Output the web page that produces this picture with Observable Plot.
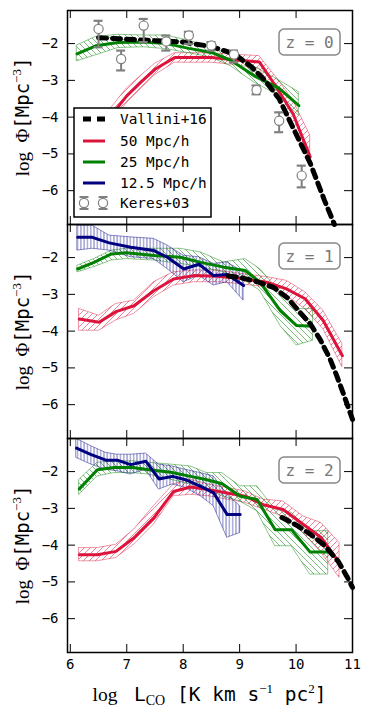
<!DOCTYPE html>
<html><head><meta charset="utf-8">
<script src="https://cdn.jsdelivr.net/npm/d3@7"></script>
<script src="https://cdn.jsdelivr.net/npm/@observablehq/plot@0.6"></script>
<style>body{margin:0;background:#fff;} svg{display:block}</style>
</head><body><div id="chart"></div>
<script>
// ---------- data ----------
const xTicks = [6, 7, 8, 9, 10, 11];
const yTicks = [-2, -3, -4, -5, -6];
const panelLabels = ["z = 0", "z = 1", "z = 2"];
const legendLabels = ["Vallini+16", "50 Mpc/h", "25 Mpc/h", "12.5 Mpc/h", "Keres+03"];

// Vallini+16
const vallini_z0_x = [6.5, 7.0, 7.5, 8.0, 8.5, 8.9, 9.2, 9.45, 9.7, 9.95, 10.25, 10.5, 10.68];
const vallini_z0_y = [-1.84, -1.88, -1.92, -1.96, -2.08, -2.28, -2.62, -3.0, -3.5, -4.3, -5.25, -6.25, -6.92];
const vallini_z1_x = [8.8, 9.0, 9.3, 9.6, 9.85, 10.07, 10.25, 10.42, 10.6, 10.72, 10.85, 11.0];
const vallini_z1_y = [-2.5, -2.54, -2.65, -2.81, -3.1, -3.49, -3.8, -4.21, -4.75, -5.21, -5.75, -6.4];
const vallini_z2_x = [9.75, 10.0, 10.25, 10.5, 10.75, 10.9, 11.0];
const vallini_z2_y = [-3.25, -3.45, -3.7, -4.0, -4.45, -4.85, -5.15];

// Keres+03 (z = 0)
const keres_x  = [6.5, 6.9, 7.3, 7.7, 8.1, 8.5, 8.9, 9.3, 9.7, 10.1];
const keres_y  = [-1.60, -2.42, -1.51, -1.94, -1.78, -2.05, -2.30, -3.26, -4.10, -5.59];
const keres_lo = [-2.10, -2.73, -1.96, -2.19, -2.01, -2.19, -2.51, -3.38, -4.41, -5.91];
const keres_hi = [-1.38, -2.19, -1.33, -1.78, -1.68, -1.96, -2.19, -3.14, -3.87, -5.32];

// 50 Mpc/h (red)
const red_z0_x  = [6.3, 6.65, 7.0, 7.25, 7.5, 7.85, 8.2, 8.5, 8.9, 9.35, 9.65, 9.95, 10.25];
const red_z0_y  = [-4.8, -4.1, -3.42, -3.05, -2.7, -2.38, -2.38, -2.38, -2.44, -2.5, -3.18, -3.92, -5.08];
const red_z0_lo = [-5.0, -4.3, -3.62, -3.24, -2.86, -2.52, -2.52, -2.52, -2.58, -2.68, -3.42, -4.2, -5.2];
const red_z0_hi = [-4.6, -3.9, -3.22, -2.88, -2.55, -2.26, -2.26, -2.27, -2.3, -2.34, -2.92, -3.55, -4.5];
const red_z1_x  = [6.16, 6.51, 6.81, 7.13, 7.48, 7.83, 8.19, 8.60, 9.0, 9.48, 9.83, 10.16, 10.48, 10.82];
const red_z1_y  = [-3.67, -3.76, -3.47, -3.31, -2.90, -2.58, -2.49, -2.51, -2.56, -2.67, -2.85, -3.12, -3.71, -4.67];
const red_z1_lo = [-3.99, -3.99, -3.71, -3.53, -3.08, -2.76, -2.67, -2.67, -2.72, -2.81, -3.03, -3.40, -3.94, -4.98];
const red_z1_hi = [-3.40, -3.58, -3.26, -3.17, -2.67, -2.40, -2.35, -2.35, -2.44, -2.53, -2.63, -2.94, -3.44, -4.35];
const red_z2_x  = [6.16, 6.48, 6.81, 7.13, 7.48, 7.83, 8.13, 8.45, 8.78, 9.10, 9.42, 9.77, 10.13, 10.45, 10.77];
const red_z2_y  = [-4.26, -4.26, -4.17, -3.80, -3.26, -2.54, -2.42, -2.49, -2.58, -2.67, -2.90, -3.03, -3.44, -3.80, -4.48];
const red_z2_lo = [-4.44, -4.44, -4.35, -3.99, -3.44, -2.67, -2.63, -2.67, -2.76, -2.85, -3.03, -3.22, -3.67, -4.21, -4.89];
const red_z2_hi = [-4.08, -4.08, -3.99, -3.58, -2.94, -2.35, -2.22, -2.35, -2.44, -2.54, -2.76, -2.81, -3.22, -3.40, -3.94];

// 25 Mpc/h (green)
const green_z0_x  = [6.12, 6.45, 6.85, 7.3, 7.7, 8.1, 8.5, 8.85, 9.25, 9.7, 10.05];
const green_z0_y  = [-2.28, -2.06, -1.97, -1.96, -2.0, -2.13, -2.24, -2.46, -2.87, -3.22, -3.69];
const green_z0_lo = [-2.48, -2.32, -2.12, -2.1, -2.15, -2.26, -2.38, -2.62, -3.05, -3.42, -3.96];
const green_z0_hi = [-2.05, -1.82, -1.76, -1.78, -1.78, -1.92, -2.1, -2.33, -2.62, -3.0, -3.32];
const green_z1_x  = [6.13, 6.42, 6.73, 6.99, 7.48, 7.95, 8.31, 8.72, 9.10, 9.36, 9.72, 10.01, 10.30];
const green_z1_y  = [-2.31, -2.13, -1.90, -1.87, -1.94, -1.99, -2.13, -2.26, -2.35, -2.67, -3.44, -3.85, -3.87];
const green_z1_lo = [-2.40, -2.26, -2.08, -2.04, -2.08, -2.17, -2.26, -2.40, -2.63, -2.90, -3.85, -4.39, -4.26];
const green_z1_hi = [-2.22, -2.04, -1.81, -1.76, -1.76, -1.76, -1.86, -2.13, -2.04, -2.31, -2.94, -3.40, -3.40];
const green_z2_x  = [6.16, 6.48, 6.78, 7.10, 7.39, 7.78, 8.13, 8.42, 8.69, 9.01, 9.31, 9.63, 9.92, 10.25, 10.57];
const green_z2_y  = [-2.47, -1.95, -1.89, -1.89, -1.95, -2.02, -2.13, -2.22, -2.33, -2.67, -2.76, -3.58, -3.58, -4.19, -4.19];
const green_z2_lo = [-2.63, -2.13, -2.04, -2.04, -2.08, -2.22, -2.35, -2.44, -2.67, -2.81, -3.08, -4.03, -4.03, -4.80, -4.80];
const green_z2_hi = [-2.22, -1.76, -1.72, -1.72, -1.76, -1.81, -1.86, -2.04, -2.04, -2.40, -2.40, -3.03, -3.12, -3.62, -3.62];

// 12.5 Mpc/h (blue)
const blue_z1_x  = [6.13, 6.39, 6.69, 7.07, 7.48, 7.72, 8.01, 8.28, 8.54, 8.78, 9.07];
const blue_z1_y  = [-1.45, -1.45, -1.60, -1.72, -1.81, -1.99, -2.31, -2.18, -2.49, -2.46, -2.76];
const blue_z1_lo = [-1.81, -1.76, -1.81, -1.99, -2.04, -2.31, -2.67, -2.49, -2.76, -2.67, -3.17];
const blue_z1_hi = [-1.13, -1.13, -1.40, -1.45, -1.49, -1.67, -1.95, -1.99, -2.17, -2.13, -2.40];
const blue_z2_x  = [6.11, 6.37, 6.63, 6.83, 7.07, 7.34, 7.57, 7.81, 8.04, 8.31, 8.54, 8.78, 9.01];
const blue_z2_y  = [-1.36, -1.54, -1.69, -1.69, -1.81, -1.72, -2.20, -2.13, -2.22, -2.40, -2.58, -3.17, -3.17];
const blue_z2_lo = [-1.63, -1.81, -1.95, -1.99, -2.08, -1.95, -2.49, -2.35, -2.44, -2.67, -2.94, -3.80, -3.67];
const blue_z2_hi = [-1.11, -1.31, -1.49, -1.54, -1.54, -1.51, -1.81, -1.86, -1.95, -2.04, -2.13, -2.63, -2.94];

// ---------- build tables ----------
const RED = "#DC143C", GREEN = "#008000", BLUE = "#000080", GRAY = "#808080";
const W = 373, H = 716, MT = 10, MB = 64, ML = 67, MR = 21;
const FH = (H - MT - MB) / 3;
const MONO = "DejaVu Sans Mono", SERIF = "Liberation Serif";

function rows(z, xs, ys, lo, hi) {
  return xs.map((x, i) => ({z, x, y: ys[i], lo: lo ? lo[i] : null, hi: hi ? hi[i] : null}));
}
const redRows = [...rows(0, red_z0_x, red_z0_y, red_z0_lo, red_z0_hi), ...rows(1, red_z1_x, red_z1_y, red_z1_lo, red_z1_hi), ...rows(2, red_z2_x, red_z2_y, red_z2_lo, red_z2_hi)];
const greenRows = [...rows(0, green_z0_x, green_z0_y, green_z0_lo, green_z0_hi), ...rows(1, green_z1_x, green_z1_y, green_z1_lo, green_z1_hi), ...rows(2, green_z2_x, green_z2_y, green_z2_lo, green_z2_hi)];
const blueRows = [...rows(1, blue_z1_x, blue_z1_y, blue_z1_lo, blue_z1_hi), ...rows(2, blue_z2_x, blue_z2_y, blue_z2_lo, blue_z2_hi)];
const valliniRows = [...rows(0, vallini_z0_x, vallini_z0_y), ...rows(1, vallini_z1_x, vallini_z1_y), ...rows(2, vallini_z2_x, vallini_z2_y)];
const keresRows = rows(0, keres_x, keres_y, keres_lo, keres_hi);

const band = (data, color, pat) => Plot.areaY(data, {x: "x", y1: "lo", y2: "hi", fy: "z", fill: `url(#${pat})`, stroke: color, strokeWidth: 0.6, strokeOpacity: 0.75});
const line = (data, color) => Plot.line(data, {x: "x", y: "y", fy: "z", stroke: color, strokeWidth: 3});

const svg = Plot.plot({
  width: W, height: H,
  marginTop: MT, marginBottom: MB, marginLeft: ML, marginRight: MR,
  x: {domain: [5.95, 11]},
  y: {domain: [-6.92, -1.1]},
  fy: {domain: [0, 1, 2], padding: 0, axis: null},
  style: {fontFamily: MONO, fontSize: "14px", background: "white", overflow: "visible"},
  marks: [
    band(redRows, RED, "hRed"),
    band(greenRows, GREEN, "hGreen"),
    band(blueRows, BLUE, "hBlue"),
    line(redRows, RED),
    line(greenRows, GREEN),
    line(blueRows, BLUE),
    Plot.line(valliniRows, {x: "x", y: "y", fy: "z", stroke: "black", strokeWidth: 5, strokeDasharray: "8,6"}),
    Plot.ruleX(keresRows, {x: "x", y1: "lo", y2: "hi", fy: "z", stroke: GRAY, strokeWidth: 2}),
    Plot.ruleY(keresRows, {y: "lo", x1: d => d.x - 0.08, x2: d => d.x + 0.08, fy: "z", stroke: GRAY, strokeWidth: 2.2}),
    Plot.ruleY(keresRows, {y: "hi", x1: d => d.x - 0.08, x2: d => d.x + 0.08, fy: "z", stroke: GRAY, strokeWidth: 2.2}),
    Plot.dot(keresRows, {x: "x", y: "y", fy: "z", r: 4.6, fill: "white", stroke: GRAY, strokeWidth: 1.2}),
    // inward ticks on all four sides
    Plot.tickX(xTicks, {x: d => d, insetTop: FH - 8, stroke: "black", strokeWidth: 1}),
    Plot.tickX(xTicks, {x: d => d, insetBottom: FH - 8, stroke: "black", strokeWidth: 1}),
    Plot.tickY(yTicks, {y: d => d, insetRight: (W - ML - MR) - 8, stroke: "black", strokeWidth: 1}),
    Plot.tickY(yTicks, {y: d => d, insetLeft: (W - ML - MR) - 8, stroke: "black", strokeWidth: 1}),
    Plot.frame({stroke: "black", strokeWidth: 1.5}),
    Plot.axisX(xTicks, {anchor: "bottom", tickSize: 0, tickPadding: 7, label: null, fontSize: 14, tickFormat: d => String(d)}),
    Plot.axisY(yTicks, {anchor: "left", tickSize: 0, tickPadding: 9, label: null, fontSize: 14, tickFormat: d => "\u2212" + Math.abs(d)})
  ]
});
document.getElementById("chart").appendChild(svg);

// ---------- hatch patterns ----------
const root = d3.select(svg);
const defs = root.insert("defs", ":first-child");
function hatch(id, color, size, d, sw) {
  const p = defs.append("pattern").attr("id", id).attr("patternUnits", "userSpaceOnUse").attr("width", size).attr("height", size);
  p.append("path").attr("d", d).attr("stroke", color).attr("stroke-width", sw).attr("fill", "none").attr("stroke-opacity", 0.75);
}
hatch("hRed", RED, 6, "M-1,1L1,-1M0,6L6,0M5,7L7,5", 0.7);
hatch("hGreen", GREEN, 6, "M-1,5L1,7M0,0L6,6M5,-1L7,1", 0.7);
hatch("hBlue", BLUE, 3.3, "M1.65,0V3.3", 0.7);

// ---------- panel labels (z = ...) ----------
panelLabels.forEach((lab, i) => {
  const top = MT + i * FH;
  root.append("rect").attr("x", 279).attr("y", top + 19).attr("width", 61).attr("height", 26)
    .attr("rx", 5).attr("fill", "white").attr("stroke", "#888").attr("stroke-width", 1.5);
  root.append("text").attr("x", 309.5).attr("y", top + 32).attr("text-anchor", "middle")
    .attr("dominant-baseline", "central").attr("font-family", MONO).attr("font-size", 16)
    .attr("fill", "#777").style("white-space", "pre").text(lab);
});

// ---------- y labels ----------
for (let i = 0; i < 3; i++) {
  const cy = MT + i * FH + FH / 2;
  const t = root.append("text").attr("transform", `translate(29,${cy}) rotate(-90)`)
    .attr("text-anchor", "middle").attr("font-size", 19).style("white-space", "pre");
  t.append("tspan").attr("font-family", SERIF).text("log ");
  t.append("tspan").attr("font-family", SERIF).text(" \u03A6");
  t.append("tspan").attr("font-family", MONO).text("[Mpc");
  t.append("tspan").attr("font-family", SERIF).attr("font-size", 13).attr("dy", -8).text("\u22123");
  t.append("tspan").attr("font-family", MONO).attr("dy", 8).text("]");
}

// ---------- x label ----------
{
  const t = root.append("text").attr("x", (ML + W - MR) / 2).attr("y", 701).attr("text-anchor", "middle")
    .attr("font-size", 19.5).style("white-space", "pre");
  t.append("tspan").attr("font-family", SERIF).text("log ");
  t.append("tspan").attr("font-family", MONO).text(" L");
  t.append("tspan").attr("font-family", SERIF).attr("font-size", 14).attr("dy", 4).text("CO");
  t.append("tspan").attr("font-family", MONO).attr("dy", -4).text(" [K km s");
  t.append("tspan").attr("font-family", SERIF).attr("font-size", 13).attr("dy", -8).text("\u22121");
  t.append("tspan").attr("font-family", MONO).attr("dy", 8).text(" pc");
  t.append("tspan").attr("font-family", SERIF).attr("font-size", 13).attr("dy", -8).text("2");
  t.append("tspan").attr("font-family", MONO).attr("dy", 8).text("]");
}

// ---------- legend ----------
{
  const g = root.append("g");
  g.append("rect").attr("x", 74).attr("y", 108).attr("width", 137).attr("height", 109)
    .attr("fill", "white").attr("stroke", "black").attr("stroke-width", 1.5);
  const rowsY = [119, 141, 162, 183, 203];
  const styles = [
    {stroke: "black", w: 5, dash: "8,6"},
    {stroke: RED, w: 3}, {stroke: GREEN, w: 3}, {stroke: BLUE, w: 3}
  ];
  styles.forEach((s, i) => {
    g.append("line").attr("x1", 83).attr("x2", 105).attr("y1", rowsY[i]).attr("y2", rowsY[i])
      .attr("stroke", s.stroke).attr("stroke-width", s.w).attr("stroke-dasharray", s.dash || null);
  });
  [84, 103].forEach(cx => {
    const cy = rowsY[4];
    g.append("line").attr("x1", cx).attr("x2", cx).attr("y1", cy - 6).attr("y2", cy + 6).attr("stroke", GRAY).attr("stroke-width", 2);
    g.append("line").attr("x1", cx - 4.5).attr("x2", cx + 4.5).attr("y1", cy - 6).attr("y2", cy - 6).attr("stroke", GRAY).attr("stroke-width", 2);
    g.append("line").attr("x1", cx - 4.5).attr("x2", cx + 4.5).attr("y1", cy + 6).attr("y2", cy + 6).attr("stroke", GRAY).attr("stroke-width", 2);
    g.append("circle").attr("cx", cx).attr("cy", cy).attr("r", 4.6).attr("fill", "white").attr("stroke", GRAY).attr("stroke-width", 1.2);
  });
  legendLabels.forEach((lab, i) => {
    g.append("text").attr("x", 120).attr("y", rowsY[i]).attr("dominant-baseline", "central")
      .attr("text-anchor", "start").attr("font-family", MONO).attr("font-size", 14.4).attr("fill", "black").text(lab);
  });
}
</script></body></html>
